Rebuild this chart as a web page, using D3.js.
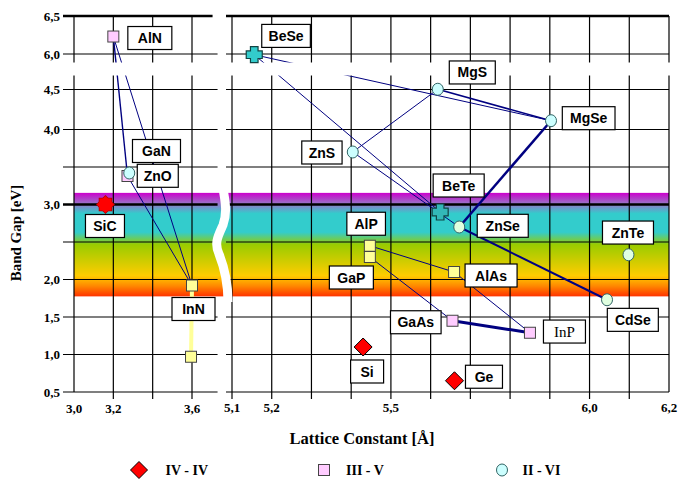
<!DOCTYPE html>
<html><head><meta charset="utf-8">
<script src="https://cdn.jsdelivr.net/npm/d3@7"></script>
<style>body{margin:0;background:#fff}svg{display:block}</style>
</head><body><svg id="c" width="696" height="486"></svg>
<script>
// ---------------- DATA ----------------
const ids        = ["SiC","Si","Ge","AlN","GaN","InN","InN_b","AlP","GaP","AlAs","GaAs","InP","ZnO","BeSe","MgS","ZnS","MgSe","BeTe","ZnSe","ZnTe","CdSe"];
const labelText  = ["SiC","Si","Ge","AlN","GaN","InN","","AlP","GaP","AlAs","GaAs","InP","ZnO","BeSe","MgS","ZnS","MgSe","BeTe","ZnSe","ZnTe","CdSe"];
const groups     = ["IV - IV","IV - IV","IV - IV","III - V","III - V","III - V","III - V","III - V","III - V","III - V","III - V","III - V","II - VI","II - VI","II - VI","II - VI","II - VI","II - VI","II - VI","II - VI","II - VI"];
const latticeConst = [3.16, 5.43, 5.66, 3.20, 3.272, 3.60, 3.595, 5.447, 5.447, 5.659, 5.655, 5.85, 3.281, 5.156, 5.618, 5.404, 5.903, 5.624, 5.672, 6.098, 6.044];
const bandGap      = [3.00, 1.10, 0.65, 6.23, 3.38, 1.92, 0.97, 2.45, 2.30, 2.10, 1.45, 1.29, 3.42, 5.97, 4.51, 3.70, 4.11, 2.90, 2.70, 2.33, 1.73];
const connections  = [["AlN","GaN"],["AlN","InN"],["GaN","InN"],["InN","InN_b"],["BeSe","MgSe"],["MgS","MgSe"],["MgS","ZnS"],["BeSe","BeTe"],["ZnS","ZnSe"],["MgSe","ZnSe"],["ZnSe","CdSe"],["AlP","AlAs"],["GaP","GaAs"],["AlAs","InP"],["GaAs","InP"]];
const yTicks       = [6.5, 6.0, 4.5, 4.0, 3.5, 3.0, 2.5, 2.0, 1.5, 1.0, 0.5];
const yTickLabels  = ["6,5","6,0","4,5","4,0","","3,0","","2,0","1,5","1,0","0,5"];
const xTicksLeft   = [3.0, 3.2, 3.4, 3.6];
const xTickLabelsLeft = ["3,0","3,2","","3,6"];
const xTicksRight  = [5.1, 5.2, 5.3, 5.4, 5.5, 5.6, 5.7, 5.8, 5.9, 6.0, 6.1, 6.2];
const xTickLabelsRight = ["5,1","5,2","","","5,5","","","","","6,0","","6,2"];
const visibleBand  = [1.775, 3.155];
const legendNames  = ["IV - IV","III - V","II - VI"];
const xTitle = "Lattice Constant [Å]";
const yTitle = "Band Gap [eV]";

// ---------------- STYLE / LAYOUT ----------------
const markerStyle = {
  SiC:{shape:"blob",fill:"#ff0000"}, Si:{shape:"diamond",fill:"#ff0000"}, Ge:{shape:"diamond",fill:"#ff0000"},
  AlN:{shape:"square",fill:"#ffccff"}, GaN:{shape:"square",fill:"#ffccff"}, InN:{shape:"square",fill:"#ffff99"}, InN_b:{shape:"square",fill:"#ffff99"},
  AlP:{shape:"square",fill:"#ffff99"}, GaP:{shape:"square",fill:"#ffff99"}, AlAs:{shape:"square",fill:"#ffff99"},
  GaAs:{shape:"square",fill:"#ffccff"}, InP:{shape:"square",fill:"#ffccff"},
  ZnO:{shape:"circle",fill:"#ccffff"}, BeSe:{shape:"cross",fill:"#33cccc"}, MgS:{shape:"circle",fill:"#ccffff"},
  ZnS:{shape:"circle",fill:"#ccffff"}, MgSe:{shape:"circle",fill:"#ccffff"}, BeTe:{shape:"cross",fill:"#33b8b8"},
  ZnSe:{shape:"circle",fill:"#e0ffe0"}, ZnTe:{shape:"circle",fill:"#e0ffe0"}, CdSe:{shape:"circle",fill:"#e0ffe0"}
};
const connectionWidths = [1.4,1,1,4,1,1.6,1,1,1,2.5,2,1,1,1,3];
// label box: offset of box top-left from marker, width
const labelBox = {
  SiC:[-20,10,39], Si:[-12.5,13,33], Ge:[11,-15.5,37], AlN:[14.5,-10,44], GaN:[5,-36.5,48], InN:[-20,12,43],
  AlP:[-23,-33.5,38.6], GaP:[-40.5,9,44], AlAs:[11,-8,52], GaAs:[-62,-10,50.6], InP:[13.5,-12.7,42],
  ZnO:[8,-8.7,41], BeSe:[7.5,-30.3,48.6], MgS:[11.5,-28.3,46], ZnS:[-51,-11,40.3], MgSe:[11.3,-14,52.7],
  BeTe:[-7,-38,51], ZnSe:[18,-12.7,51], ZnTe:[-26,-33.7,51], CdSe:[0.3,8.6,51]
};
const boxH = 23;

const svg = d3.select("#c");
const yScale = d3.scaleLinear().domain([0.5, 4.0, 4.5, 6.0, 6.5]).range([392, 129.5, 89.5, 54, 16]);
const xLeft = d3.scaleLinear().domain([3.0, 3.6]).range([74, 192]);
const xRight = d3.scaleLinear().domain([5.1, 6.2]).range([232, 669]);
const leftMax = 3.73;
const xPos = v => v < 4.5 ? xLeft(v) : xRight(v);
const pts = {};
ids.forEach((id,i)=>{ pts[id] = {x:xPos(latticeConst[i]), y:yScale(bandGap[i]), i}; });

// gradient
const defs = svg.append("defs");
const grad = defs.append("linearGradient").attr("id","spec").attr("x1",0).attr("x2",0).attr("y1",0).attr("y2",1);
[[0,"#cc00cc"],[0.1,"#9a70c8"],[0.2,"#33cccc"],[0.38,"#33cccc"],[0.5,"#99cc00"],[0.65,"#cccc00"],[0.8,"#ffcc00"],[0.9,"#ff8800"],[1,"#ff3300"]]
  .forEach(([o,c])=>grad.append("stop").attr("offset",o).attr("stop-color",c));
svg.append("rect").attr("x",xLeft(3.0)).attr("y",yScale(visibleBand[1]))
  .attr("width",xRight(6.2)-xLeft(3.0)).attr("height",yScale(visibleBand[0])-yScale(visibleBand[1]))
  .attr("fill","url(#spec)");

// grid
const g = svg.append("g").attr("stroke","#000");
yTicks.forEach(v=>{
  const w = (v===6.5||v===3.0) ? 2.5 : 1.2;
  g.append("line").attr("x1",xLeft(3.0)-11).attr("x2",v===6.5?xLeft(leftMax)-5:xLeft(leftMax)).attr("y1",yScale(v)).attr("y2",yScale(v)).attr("stroke-width",w);
  g.append("line").attr("x1",xRight(5.1)-6).attr("x2",xRight(6.2)).attr("y1",yScale(v)).attr("y2",yScale(v)).attr("stroke-width",w);
});
xTicksLeft.forEach(v=>{
  g.append("line").attr("x1",xLeft(v)).attr("x2",xLeft(v)).attr("y1",yScale(6.5)).attr("y2",yScale(0.5)+(v===3.0?0:7)).attr("stroke-width",1.2);
});
xTicksRight.forEach(v=>{
  g.append("line").attr("x1",xRight(v)).attr("x2",xRight(v)).attr("y1",yScale(6.5)).attr("y2",yScale(0.5)+(v===6.2?0:7)).attr("stroke-width",1.2);
});

// connection lines
connections.forEach(([a,b],k)=>{
  const isYellow = (a==="InN" && b==="InN_b");
  svg.append("line").attr("x1",pts[a].x).attr("y1",pts[a].y).attr("x2",pts[b].x).attr("y2",pts[b].y)
    .attr("stroke", isYellow ? "#ffff99" : "#000080").attr("stroke-width",connectionWidths[k]);
});

// axis break band
svg.append("rect").attr("x",xLeft(3.0)-14).attr("y",yScale(6.0)+8.5).attr("width",xRight(6.2)-xLeft(3.0)+20).attr("height",13).attr("fill","#fff");
// wavy break between panels
svg.append("path").attr("d","M222.5,186 C226,204 227,214 223,225 C218,236 214,243 219,254 C223,264 228,282 228,302")
  .attr("fill","none").attr("stroke","#fff").attr("stroke-width",9);

// markers
function diamond(h){return `M0,${-h}L${h},0L0,${h}L${-h},0Z`;}
function crossP(a,w){return `M${-w},${-a}L${w},${-a}L${w},${-w}L${a},${-w}L${a},${w}L${w},${w}L${w},${a}L${-w},${a}L${-w},${w}L${-a},${w}L${-a},${-w}L${-w},${-w}Z`;}
function drawMarker(sel, shape, fill){
  if(shape==="diamond"){ sel.append("path").attr("d",diamond(9)).attr("fill",fill).attr("stroke","#000").attr("stroke-width",1); }
  else if(shape==="square"){ sel.append("rect").attr("x",-5.5).attr("y",-5.5).attr("width",11).attr("height",11).attr("fill",fill).attr("stroke","#444").attr("stroke-width",1); }
  else if(shape==="circle"){ sel.append("ellipse").attr("rx",5.5).attr("ry",6).attr("fill",fill).attr("stroke","#336666").attr("stroke-width",1); }
  else if(shape==="cross"){ sel.append("path").attr("d",crossP(8,3.8)).attr("fill",fill).attr("stroke","#114444").attr("stroke-width",1.2); }
  else if(shape==="blob"){
    sel.append("path").attr("d",diamond(8.5)).attr("fill","none").attr("stroke","#b00000").attr("stroke-width",1.5);
    sel.append("rect").attr("x",-6).attr("y",-6).attr("width",12).attr("height",12).attr("fill","none").attr("stroke","#b00000").attr("stroke-width",1.5);
    sel.append("path").attr("d",diamond(8.5)).attr("fill",fill);
    sel.append("rect").attr("x",-6).attr("y",-6).attr("width",12).attr("height",12).attr("fill",fill);
  }
}
ids.forEach(id=>{
  const s = markerStyle[id];
  const mg = svg.append("g").attr("transform",`translate(${pts[id].x},${pts[id].y})`);
  drawMarker(mg, s.shape, s.fill);
});

// labels
ids.forEach((id,i)=>{
  if(!labelText[i]) return;
  const [dx,dy,w] = labelBox[id];
  const x0 = pts[id].x+dx, y0 = pts[id].y+dy;
  svg.append("rect").attr("x",x0).attr("y",y0).attr("width",w).attr("height",boxH).attr("fill","#fff").attr("stroke","#000").attr("stroke-width",1.2);
  const serif = id==="InP";
  svg.append("text").attr("x",x0+w/2).attr("y",y0+boxH/2+5).attr("text-anchor","middle")
    .attr("font-family", serif ? "'Liberation Serif','Times New Roman',serif" : "'Liberation Sans',Arial,sans-serif")
    .attr("font-weight", serif ? "normal" : "bold").attr("font-size", serif ? 15 : 14)
    .text(labelText[i]);
});

// axis labels
const serifF = "'Liberation Serif','Times New Roman',serif";
yTicks.forEach((v,i)=>{
  if(!yTickLabels[i]) return;
  svg.append("text").attr("x",60).attr("y",yScale(v)+4.5).attr("text-anchor","end")
    .attr("font-family",serifF).attr("font-weight","bold").attr("font-size",13).text(yTickLabels[i]);
});
xTicksLeft.forEach((v,i)=>{
  if(!xTickLabelsLeft[i]) return;
  svg.append("text").attr("x",xLeft(v)).attr("y",413).attr("text-anchor","middle")
    .attr("font-family",serifF).attr("font-weight","bold").attr("font-size",13).text(xTickLabelsLeft[i]);
});
xTicksRight.forEach((v,i)=>{
  if(!xTickLabelsRight[i]) return;
  svg.append("text").attr("x",xRight(v)).attr("y",412).attr("text-anchor","middle")
    .attr("font-family",serifF).attr("font-weight","bold").attr("font-size",13).text(xTickLabelsRight[i]);
});
svg.append("text").attr("x",362).attr("y",444).attr("text-anchor","middle")
  .attr("font-family",serifF).attr("font-weight","bold").attr("font-size",16.5).text(xTitle);
svg.append("text").attr("transform","translate(21,233) rotate(-90)").attr("text-anchor","middle")
  .attr("font-family",serifF).attr("font-weight","bold").attr("font-size",15).text(yTitle);

// legend
const legendX = [139, 324, 502];
const legendShape = ["diamond","square","circle"];
const legendFill = ["#ff0000","#ffccff","#ccffff"];
legendNames.forEach((n,i)=>{
  const lg = svg.append("g").attr("transform",`translate(${legendX[i]},470)`);
  if(legendShape[i]==="diamond") lg.append("path").attr("d",diamond(8.5)).attr("fill",legendFill[i]).attr("stroke","#000");
  else drawMarker(lg, legendShape[i], legendFill[i]);
  lg.append("text").attr("x", i===0?26.5:(i===1?22:20.5)).attr("y",5).attr("font-family",serifF).attr("font-weight","bold").attr("font-size",14).text(n);
});
</script>
</body></html>
